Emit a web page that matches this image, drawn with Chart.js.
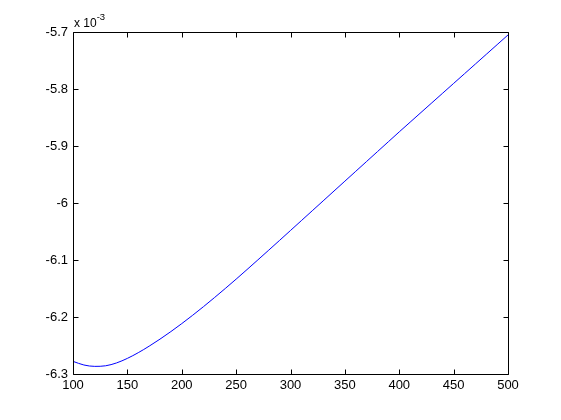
<!DOCTYPE html>
<html>
<head>
<meta charset="utf-8">
<script src="https://cdn.jsdelivr.net/npm/chart.js@4"></script>
<style>
html,body{margin:0;padding:0;background:#fff;}
#wrap{width:561px;height:420px;}
</style>
</head>
<body>
<div id="wrap"><canvas id="c" width="561" height="420"></canvas></div>
<script>
// Data (y values in units of 1e-3)
const xValues = [100,110,120,130,140,150,160,170,180,190,200,210,220,230,240,250,260,270,280,290,300,310,320,330,340,350,360,370,380,390,400,410,420,430,440,450,460,470,480,490,500];
const yValues = [-6.2778,-6.2842,-6.2866,-6.2856,-6.2806,-6.2726,-6.2626,-6.2512,-6.2388,-6.2256,-6.2116,-6.1970,-6.1818,-6.1661,-6.1500,-6.1336,-6.1168,-6.0998,-6.0827,-6.0655,-6.0482,-6.0309,-6.0136,-5.9963,-5.9790,-5.9617,-5.9444,-5.9271,-5.9098,-5.8925,-5.8752,-5.8582,-5.8412,-5.8242,-5.8072,-5.7902,-5.7732,-5.7562,-5.7392,-5.7222,-5.7052];
const xTicks = [100,150,200,250,300,350,400,450,500];
const yTicks = [-6.3,-6.2,-6.1,-6.0,-5.9,-5.8,-5.7];
const yExponentBase = 'x 10';
const yExponent = '-3';

const points = xValues.map((x,i)=>({x:x,y:yValues[i]}));
const FONT = '"Liberation Sans", Arial, Helvetica, sans-serif';

const boxPlugin = {
  id:'matlabBox',
  afterDraw(chart){
    const ctx = chart.ctx, a = chart.chartArea;
    const xs = chart.scales.x, ys = chart.scales.y;
    ctx.save();
    ctx.strokeStyle = '#000';
    ctx.lineWidth = 1;
    const L = Math.round(a.left)+0.5, R = Math.round(a.right)+0.5, T = Math.round(a.top)+0.5, B = Math.round(a.bottom)+0.5;
    ctx.beginPath();
    ctx.rect(L, T, R-L, B-T);
    ctx.stroke();
    const tl = 5;
    ctx.beginPath();
    xTicks.forEach(v=>{
      const px = Math.round(xs.getPixelForValue(v))+0.5;
      ctx.moveTo(px, B); ctx.lineTo(px, B-tl);
      ctx.moveTo(px, T); ctx.lineTo(px, T+tl);
    });
    yTicks.forEach(v=>{
      const py = Math.round(ys.getPixelForValue(v))+0.5;
      ctx.moveTo(L, py); ctx.lineTo(L+tl, py);
      ctx.moveTo(R, py); ctx.lineTo(R-tl, py);
    });
    ctx.stroke();
    // exponent label
    ctx.fillStyle = '#000';
    ctx.textBaseline = 'alphabetic';
    ctx.textAlign = 'left';
    ctx.font = '12px ' + FONT;
    ctx.fillText(yExponentBase, a.left+1, a.top-5);
    const w = ctx.measureText(yExponentBase).width;
    ctx.font = '9.5px ' + FONT;
    ctx.fillText(yExponent, a.left+1+w, a.top-12);
    ctx.restore();
  }
};

new Chart(document.getElementById('c'), {
  type:'line',
  data:{datasets:[{
    data:points,
    borderColor:'#0000ff',
    borderWidth:1,
    pointRadius:0,
    fill:false,
    cubicInterpolationMode:'monotone'
  }]},
  options:{
    responsive:false,
    animation:false,
    devicePixelRatio:1,
    layout:{padding:{left:0,top:32,right:53,bottom:0}},
    plugins:{legend:{display:false},tooltip:{enabled:false}},
    scales:{
      x:{
        type:'linear',
        min:xTicks[0], max:xTicks[xTicks.length-1],
        afterBuildTicks(s){ s.ticks = xTicks.map(v=>({value:v})); },
        afterFit(s){ s.height = 46; },
        grid:{display:false, drawTicks:false},
        border:{display:false},
        ticks:{color:'#000', padding:4, maxRotation:0, autoSkip:false, font:{family:FONT,size:13},
          callback:(v)=>String(v)}
      },
      y:{
        type:'linear',
        min:yTicks[0], max:yTicks[yTicks.length-1],
        afterBuildTicks(s){ s.ticks = yTicks.map(v=>({value:v})); },
        afterFit(s){ s.width = 73; },
        grid:{display:false, drawTicks:false},
        border:{display:false},
        ticks:{color:'#000', padding:5, autoSkip:false, font:{family:FONT,size:13},
          callback:(v)=>String(Math.round(v*10)/10)}
      }
    }
  },
  plugins:[boxPlugin]
});
</script>
</body>
</html>
